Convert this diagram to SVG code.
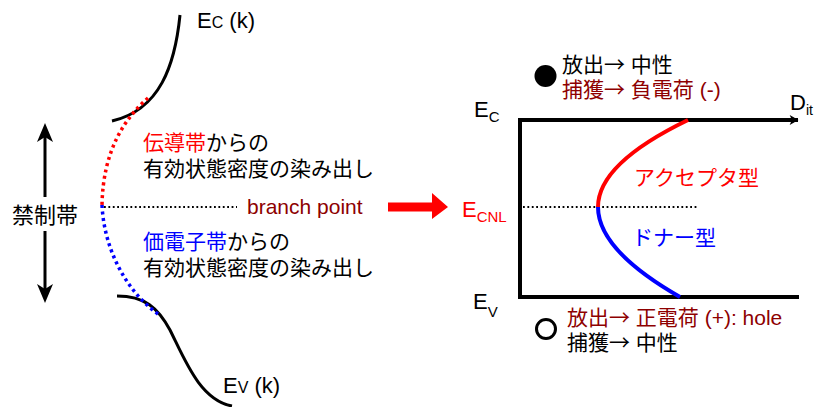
<svg xmlns="http://www.w3.org/2000/svg" width="816" height="407" viewBox="0 0 816 407">
<style>
text{font-family:"Liberation Sans","Noto Sans CJK JP",sans-serif;font-size:21px;fill:#000}
.arr{font-family:"Noto Sans CJK JP",sans-serif}
.red{fill:#ff0000}
.blue{fill:#0000ff}
.dred{fill:#8e0000}
.band{fill:none;stroke:#000;stroke-width:3}
.dotr{fill:none;stroke:#ff0000;stroke-width:3.5;stroke-dasharray:3 3.5}
.dotb{fill:none;stroke:#0000ff;stroke-width:3.5;stroke-dasharray:3 3.5}
.dotk{fill:none;stroke:#000;stroke-width:1.8;stroke-dasharray:1.8 2.6}
.axis{fill:none;stroke:#000;stroke-width:4}
</style>
<defs>
<marker id="ah" markerWidth="10" markerHeight="10" viewBox="0 0 16 18" refX="15" refY="9" orient="auto" markerUnits="userSpaceOnUse">
<path d="M0,0 L16,9 L0,18 L4,9 Z" fill="#000"/>
</marker>
</defs>

<g id="left-bands">
<path class="band" d="M180,15 C175,65 160,110 112,121"/>
<path class="band" d="M117,296 C145,296 158,308 170,330 C185,360 200,400 232,406"/>
<path class="dotr" d="M148,98 C125,118 103,150 102,205"/>
<path class="dotb" d="M102,205 C104,248 125,290 158,314"/>
</g>

<g id="label-ec-k"><text x="197" y="28" style="font-size:22px">E<tspan font-size="16">C</tspan> (k)</text></g>
<g id="label-ev-k"><text x="223" y="393" style="font-size:22px">E<tspan font-size="16">V</tspan> (k)</text></g>

<g id="gap-arrow">
<line x1="45" y1="136" x2="45" y2="197" stroke="#000" stroke-width="3"/>
<line x1="45" y1="231" x2="45" y2="292" stroke="#000" stroke-width="3"/>
<path d="M45,123 L53,142 L45,137 L37,142 Z" fill="#000"/>
<path d="M45,303 L53,284 L45,289 L37,284 Z" fill="#000"/>
<text x="12" y="223" style="font-size:22px">禁制帯</text>
</g>

<g id="cb-text">
<text x="143" y="150"><tspan class="red">伝導帯</tspan>からの</text>
<text x="143" y="176">有効状態密度の染み出し</text>
</g>
<g id="vb-text">
<text x="143" y="249"><tspan class="blue">価電子帯</tspan>からの</text>
<text x="143" y="275">有効状態密度の染み出し</text>
</g>

<g id="branch-point">
<line class="dotk" x1="104" y1="207" x2="237" y2="207"/>
<text class="dred" x="247" y="214">branch point</text>
</g>

<g id="connectors">
<path d="M388,202.5 L432,202.5 L432,193 L448,207 L432,219 L432,211.5 L388,211.5 Z" fill="#ff0000"/>
</g>

<g id="dit-chart">
<polyline class="axis" points="520,120 520,297 799,297"/>
<line class="axis" x1="518" y1="120" x2="798" y2="120" marker-end="url(#ah)"/>
<line class="dotk" x1="523" y1="207" x2="697" y2="207"/>
<path d="M688,120 Q598,163.5 598,207" fill="none" stroke="#ff0000" stroke-width="4"/>
<path d="M598,207 Q598,250 680,297" fill="none" stroke="#0000ff" stroke-width="4"/>
</g>

<g id="label-ec"><text x="474" y="117" style="font-size:22px">E<tspan font-size="15" dy="5">C</tspan></text></g>
<g id="label-ev"><text x="473" y="309" style="font-size:22px">E<tspan font-size="15" dy="8">V</tspan></text></g>
<g id="label-ecnl"><text class="red" x="462" y="217" style="font-size:22px">E<tspan font-size="15" dy="5">CNL</tspan></text></g>
<g id="label-dit"><text x="790" y="110" style="font-size:22px">D<tspan font-size="14" dy="5">it</tspan></text></g>

<g id="acceptor"><text class="red" x="634" y="185">アクセプタ型</text></g>
<g id="donor"><text class="blue" x="632" y="245">ドナー型</text></g>

<g id="electron">
<circle cx="545.5" cy="76" r="11" fill="#000"/>
<text x="562" y="72">放出<tspan class="arr">→</tspan> 中性</text>
<text class="dred" x="562" y="97">捕獲<tspan class="arr">→</tspan> 負電荷 (-)</text>
</g>

<g id="hole">
<circle cx="546" cy="329" r="9.5" fill="none" stroke="#000" stroke-width="3"/>
<text class="dred" x="567" y="325">放出<tspan class="arr">→</tspan> 正電荷 (+): hole</text>
<text x="567" y="350">捕獲<tspan class="arr">→</tspan> 中性</text>
</g>
</svg>
